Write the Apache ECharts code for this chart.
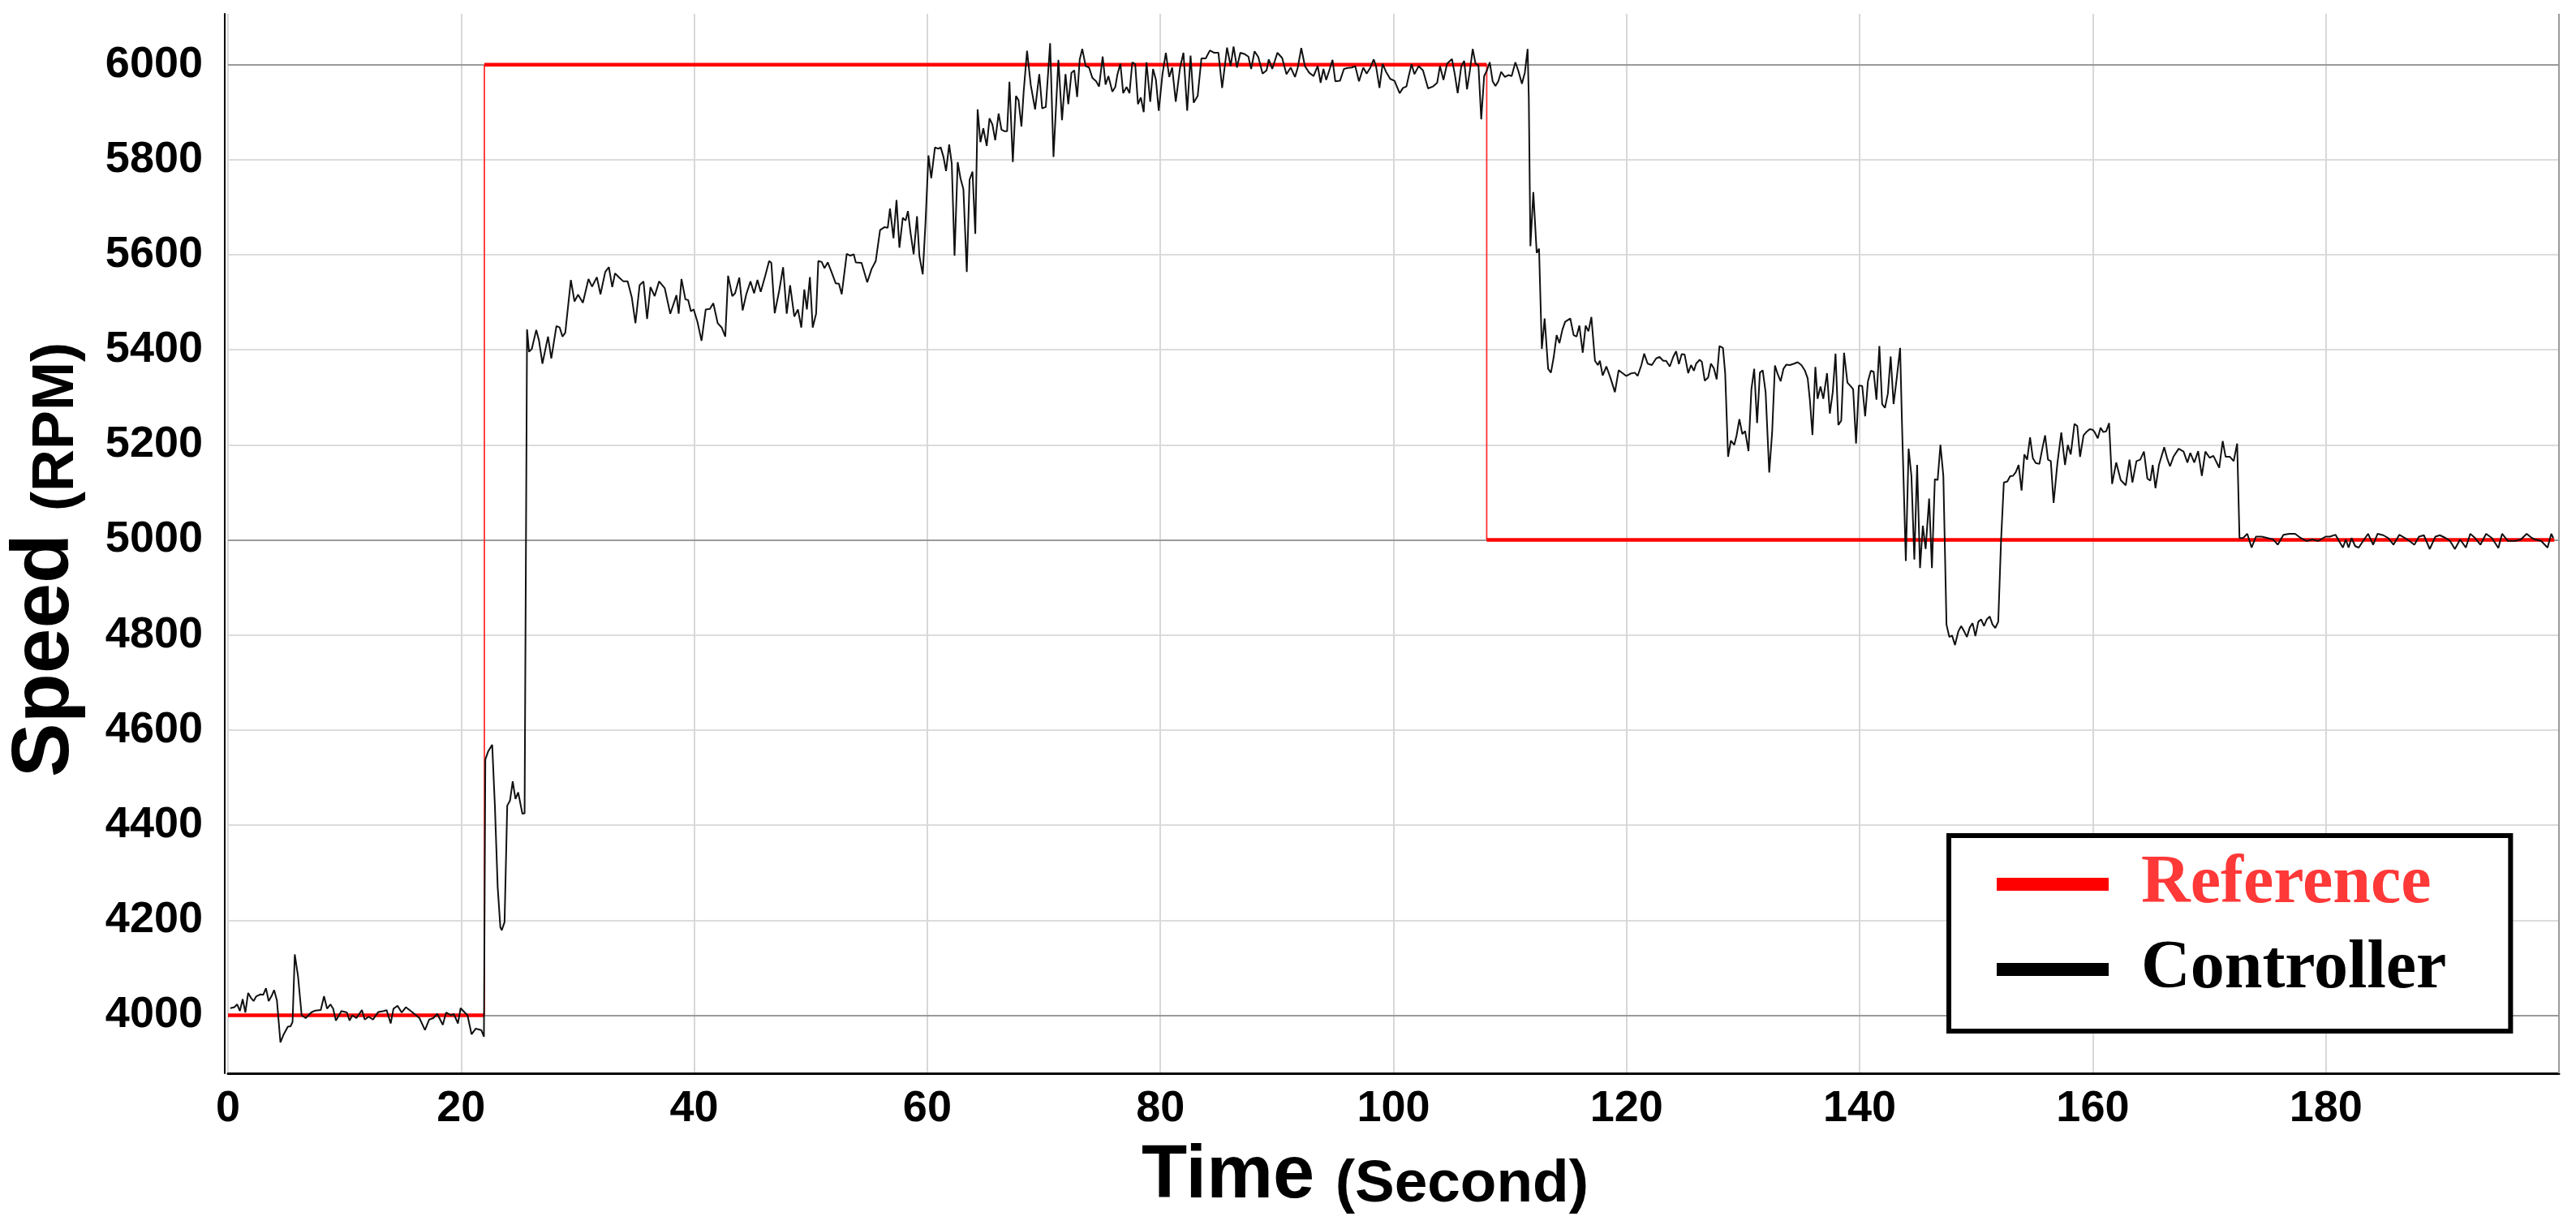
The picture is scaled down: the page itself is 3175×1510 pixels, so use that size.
<!DOCTYPE html>
<html>
<head>
<meta charset="utf-8">
<title>Speed response</title>
<script src="https://cdn.jsdelivr.net/npm/echarts@6/dist/echarts.min.js"></script>
<style>
  html, body { margin: 0; padding: 0; background: #fff; }
  #chart { width: 3175px; height: 1510px; }
</style>
</head>
<body>
<div id="chart"></div>
<script>
// set-point steps: change times (s) and the level held after each one (RPM)
const refTimes = [0, 22, 108, 199.6]
const refLevels = [4000, 6000, 5000]

// measured speed, [time (s), speed (RPM)]
const controller = [
  [0.2,4015],[0.55,4017],[0.79,4023],[1.02,4009],[1.26,4034],[1.49,4006],[1.73,4047],[1.96,4037],[2.2,4030],[2.43,4040],
  [2.79,4044],[3.02,4043],[3.26,4057],[3.49,4030],[3.73,4040],[3.96,4053],[4.2,4031],[4.5,3943],[4.78,3960],[5.14,3976],
  [5.37,3977],[5.54,3986],[5.73,4128],[6.01,4082],[6.32,4000],[6.67,3994],[7.14,4006],[7.49,4010],[7.96,4011],[8.24,4040],
  [8.5,4014],[8.79,4023],[9.02,4014],[9.26,3989],[9.73,4009],[10.2,4006],[10.43,3989],[10.67,4000],[11.02,3994],[11.49,4011],
  [11.73,3991],[12.08,3997],[12.43,3991],[12.9,4007],[13.37,4009],[13.61,4011],[13.96,3983],[14.2,4014],[14.55,4020],[14.9,4006],
  [15.26,4017],[15.84,4006],[16.43,3994],[16.9,3969],[17.26,3991],[17.61,3994],[17.96,4003],[18.43,3980],[18.72,4006],[19.14,4000],
  [19.37,4003],[19.73,3983],[19.96,4015],[20.31,4006],[20.55,4000],[20.9,3960],[21.26,3972],[21.73,3969],[21.96,3955],[22.08,4538],
  [22.32,4555],[22.67,4569],[22.9,4441],[23.14,4270],[23.37,4185],[23.49,4179],[23.73,4196],[23.96,4441],[24.2,4452],[24.43,4492],
  [24.67,4455],[24.9,4469],[25.26,4424],[25.45,4425],
  [25.66,5443],[25.83,5396],[26.07,5402],[26.45,5442],[26.69,5419],[26.98,5371],[27.46,5428],[27.74,5382],[28.18,5450],[28.46,5447],
  [28.7,5428],[28.94,5436],[29.42,5547],[29.73,5502],[30.04,5516],[30.45,5499],[30.93,5549],[31.24,5533],[31.65,5553],[31.96,5517],
  [32.37,5564],[32.68,5574],[32.97,5532],[33.21,5561],[33.57,5552],[33.93,5544],[34.29,5544],[34.65,5510],[34.96,5456],[35.32,5536],
  [35.65,5544],[35.96,5465],[36.25,5532],[36.61,5513],[36.99,5544],[37.47,5530],[37.95,5476],[38.48,5515],[38.67,5476],[38.91,5549],
  [39.25,5506],[39.48,5505],[39.72,5481],[39.96,5485],[40.28,5459],[40.63,5419],[40.99,5485],[41.35,5486],[41.64,5498],[42.02,5456],
  [42.36,5447],[42.67,5428],[42.91,5556],[43.27,5513],[43.51,5519],[43.87,5552],[44.16,5483],[44.47,5517],[44.83,5544],[45.14,5519],
  [45.43,5547],[45.71,5522],[46.1,5556],[46.43,5587],[46.62,5583],[46.91,5477],[47.3,5525],[47.63,5574],[47.94,5476],[48.23,5536],
  [48.59,5470],[48.9,5485],[49.19,5447],[49.45,5527],[49.67,5485],[49.93,5553],[50.17,5447],[50.46,5476],[50.65,5587],[50.94,5585],
  [51.18,5572],[51.46,5584],[51.78,5564],[52.14,5540],[52.42,5539],[52.66,5517],[53.09,5602],[53.38,5598],[53.69,5601],
  [53.87,5584],[54.36,5583],[54.85,5542],[55.22,5570],[55.58,5587],[55.95,5652],[56.31,5658],[56.61,5657],[56.8,5697],[57.1,5635],
  [57.36,5715],[57.61,5615],[57.9,5678],[58.14,5672],[58.34,5692],[58.56,5647],[58.83,5601],[59.12,5681],[59.32,5598],[59.61,5559],
  [59.85,5669],[60.1,5809],[60.34,5761],[60.66,5826],[60.95,5823],[61.15,5826],[61.39,5806],[61.61,5776],[61.88,5832],[62.1,5792],
  [62.34,5598],[62.61,5795],[62.85,5761],[63.1,5738],[63.39,5564],[63.63,5758],[63.88,5775],[64.12,5644],[64.32,5906],[64.56,5837],
  [64.81,5866],[65.1,5829],[65.34,5887],[65.59,5874],[65.83,5841],[66.12,5897],[66.37,5863],[66.61,5860],[66.85,5860],[67.05,5964],
  [67.34,5795],[67.61,5934],[67.83,5925],[68.08,5870],[68.27,5943],[68.56,6029],[68.88,5957],[69.25,5906],[69.61,5980],[69.86,5908],
  [70.17,5911],[70.54,6045],[70.83,5806],[71.25,6010],[71.56,5883],[71.86,5980],[72.1,5917],[72.37,5983],[72.61,5988],[72.86,5932],
  [73.08,6011],[73.3,6033],[73.59,5997],[73.88,5994],[74.17,5972],[74.49,5965],[74.74,5954],[75.05,6017],[75.3,5958],[75.54,5976],
  [75.88,5943],[76.13,5953],[76.32,5980],[76.57,6002],[76.81,5940],[77.1,5953],[77.35,5940],[77.59,6005],[77.84,6001],[78.08,5917],
  [78.32,5931],[78.57,5900],[78.81,6005],[79.13,5922],[79.37,5991],[79.62,5968],[79.86,5903],[80.18,5980],[80.47,6025],[80.76,5974],
  [81.01,5994],[81.32,5922],[81.69,5994],[81.98,6025],[82.3,5903],[82.59,6019],[82.86,5920],[83.2,5934],[83.52,6013],[83.89,6013],
  [84.25,6030],[84.62,6025],[84.98,6025],[85.3,5951],[85.72,6036],[86.03,5997],[86.28,6038],[86.57,5994],[86.86,6025],[87.25,6022],
  [87.55,6017],[87.79,5991],[88.08,6028],[88.4,6016],[88.77,5981],
  [89.11,5988],[89.3,6011],[89.6,5991],[90.04,6025],[90.45,6014],[90.82,5980],[91.18,5994],[91.55,5974],[91.79,5994],[92.09,6035],
  [92.4,5997],[92.77,5983],[93.14,5976],[93.5,5997],[93.75,5962],[93.99,5991],[94.23,5968],[94.53,5991],[94.77,6010],[95.01,5965],
  [95.41,5966],[95.75,5991],[96.06,5993],[96.43,5994],[96.72,5997],[97.04,5965],[97.41,5994],[97.7,5981],[98.02,5994],[98.31,6011],
  [98.5,5997],[98.8,5951],[99.07,6002],[99.36,5985],[99.72,5970],[100.09,5966],[100.53,5940],[100.82,5951],[101.11,5954],[101.31,5976],
  [101.55,6001],[101.8,5980],[102.16,5997],[102.53,5988],[102.97,5950],[103.38,5954],[103.75,5962],[103.99,5997],[104.29,5968],[104.6,6002],
  [105.02,6012],[105.26,5980],[105.51,5940],[105.82,5997],[106.07,6008],[106.31,5948],[106.56,5988],[106.8,6033],[107.04,6002],[107.29,5999],
  [107.53,5885],[107.78,5976],[108.02,5988],[108.26,6005],[108.51,5965],[108.75,5955],[108.99,5965],[109.24,5985],[109.56,5974],[109.85,5978],
  [110.14,5976],[110.46,6005],[110.7,5988],[111.02,5960],[111.27,5983],[111.51,6033],[111.61,5931],[111.75,5618],[112.0,5732],[112.29,5604],
  [112.49,5613],[112.73,5402],[112.97,5466],[113.27,5360],[113.51,5352],[113.75,5385],[114.0,5431],[114.24,5414],[114.49,5442],[114.73,5459],
  [115.17,5466],[115.46,5431],[115.71,5428],[115.95,5451],[116.24,5394],[116.49,5451],[116.73,5439],[116.98,5469],[117.29,5377],[117.54,5368],
  [117.71,5377],[117.95,5346],[118.27,5365],[118.63,5340],[119.0,5311],[119.32,5357],[119.66,5351],[119.98,5345],[120.34,5350],[120.71,5352],
  [120.95,5345],[121.27,5368],[121.51,5392],[121.81,5371],[122.17,5368],[122.54,5382],[122.83,5385],[123.15,5377],[123.39,5377],[123.71,5365],
  [124.0,5385],[124.25,5397],[124.49,5370],[124.73,5391],[124.98,5390],
  [125.29,5351],[125.53,5368],[125.78,5356],[125.97,5371],[126.27,5379],[126.46,5375],[126.71,5335],[127.0,5342],[127.24,5371],[127.49,5361],
  [127.73,5338],[127.97,5408],[128.27,5404],[128.46,5351],[128.71,5175],[128.95,5209],[129.24,5200],[129.44,5220],[129.68,5254],[129.93,5223],
  [130.17,5229],[130.46,5187],[130.71,5317],[130.95,5360],[131.2,5246],[131.44,5352],[131.68,5357],[131.93,5311],[132.24,5142],[132.49,5226],
  [132.73,5367],[132.98,5348],[133.22,5334],[133.46,5360],[133.71,5369],[134.02,5368],[134.37,5371],[134.68,5374],[135.0,5368],[135.29,5357],
  [135.54,5340],[135.73,5294],[135.95,5221],[136.2,5364],[136.39,5297],[136.64,5323],[136.88,5297],[137.2,5351],[137.44,5266],[137.69,5311],
  [137.93,5392],[138.17,5242],[138.42,5251],[138.66,5394],[138.95,5331],[139.25,5323],[139.44,5317],[139.69,5203],[139.93,5325],[140.22,5324],
  [140.47,5260],[140.71,5334],[140.96,5356],[141.2,5354],[141.44,5295],[141.69,5408],[141.93,5286],[142.17,5278],[142.42,5308],[142.66,5386],
  [142.91,5286],[143.15,5334],[143.47,5404],[143.64,5237],[143.96,4956],[144.2,5192],[144.44,5135],[144.69,4959],[144.93,5158],[145.18,4941],
  [145.42,5030],[145.66,4981],[145.96,5087],[146.2,4941],[146.45,5128],[146.69,5126],[146.93,5200],[147.18,5135],[147.45,4822],[147.69,4796],
  [147.93,4799],[148.18,4779],[148.47,4808],[148.71,4819],[148.96,4808],[149.2,4796],[149.45,4816],[149.69,4825],[149.93,4798],[150.18,4828],
  [150.42,4833],[150.67,4819],[150.91,4833],[151.16,4839],[151.4,4822],[151.64,4815],[151.89,4828],[152.13,4998],[152.37,5121],[152.67,5123],
  [152.91,5134],[153.16,5135],[153.4,5143],[153.64,5158],[153.89,5104],[154.13,5180],[154.37,5169],[154.62,5216],[154.86,5172],[155.11,5162],
  [155.42,5160],[155.67,5192],[155.91,5220],[156.16,5169],[156.4,5166],[156.64,5078],[156.96,5160],[157.3,5226],[157.62,5158],[157.86,5200],
  [158.11,5180],[158.43,5244],[158.67,5240],[158.91,5175],[159.21,5220],[159.45,5227],[159.74,5233],[159.99,5232],[160.18,5226],[160.43,5214],
  [160.67,5236],[160.91,5227],[161.16,5229],[161.4,5246],
  [161.66,5118],[162.01,5163],[162.4,5126],[162.83,5115],[163.15,5169],[163.4,5121],[163.75,5166],[164.07,5169],[164.39,5186],[164.69,5129],
  [164.94,5125],[165.14,5158],[165.38,5109],[165.68,5158],[166.13,5195],[166.38,5172],[166.63,5155],[166.92,5175],[167.37,5192],[167.79,5186],
  [168.12,5163],[168.37,5183],[168.71,5163],[169.04,5187],[169.36,5135],[169.66,5186],[170.03,5173],[170.35,5177],[170.85,5152],[171.15,5208],
  [171.4,5175],[171.77,5175],[172.09,5166],[172.39,5203],[172.59,5004],[172.89,5004],[173.26,5013],[173.63,4984],[174.0,5007],[174.5,5007],
  [175.0,5004],[175.5,5001],[175.87,4990],[176.36,5011],[176.86,5013],[177.36,5013],[177.85,5004],[178.35,4998],[178.85,5001],[179.34,4998],
  [179.97,5007],[180.34,5007],[180.83,5011],[181.13,4998],[181.46,4984],[181.71,5001],[181.95,4984],[182.2,5004],[182.52,4987],[182.82,4984],
  [183.2,4998],[183.62,5013],[184.06,4990],[184.44,5013],[184.93,5010],[185.36,5004],[185.8,4990],[186.3,5011],[186.8,5004],[187.17,4998],
  [187.59,4990],[187.99,5007],[188.41,5010],[188.91,4981],[189.4,5007],[189.78,5010],[190.28,5004],[190.65,4998],[191.07,4981],[191.52,5001],
  [192.01,4984],[192.39,5013],[192.81,5004],[193.26,4990],[193.75,5013],[194.25,5004],[194.8,4983],[195.12,5013],[195.62,4998],[196.24,4998],
  [196.73,5001],[197.23,5013],[197.68,5004],[197.97,5001],[198.47,4998],[199.02,4984],[199.34,5013],[199.51,5004]
]

const timeRange = [0, 200]
const speedRange = [3878, 6107]
const majorLines = [4000, 5000, 6000]

// flat parts of the set-point are drawn heavy, the step edges thin
const refFlat = []
const refEdges = []
refLevels.forEach((lvl, i) => {
  refFlat.push([refTimes[i], lvl], [refTimes[i + 1], lvl], [refTimes[i + 1], '-'])
  if (i > 0) {
    refEdges.push([refTimes[i], refLevels[i - 1]], [refTimes[i], lvl], [refTimes[i], '-'])
  }
})

const sans = "'Liberation Sans', Arial, sans-serif"
const serif = "'Liberation Serif', 'Times New Roman', serif"

const chart = echarts.init(document.getElementById('chart'))

const option = {
  animation: false,
  backgroundColor: '#ffffff',
  grid: {
    left: 281,
    right: 21,
    top: 17,
    bottom: 187,
    containLabel: false,
    outerBoundsMode: 'none'
  },
  legend: {
    orient: 'vertical',
    left: 2402,
    top: 1030,
    padding: [18, 79, 34, 59],
    itemWidth: 138,
    itemHeight: 16,
    itemGap: 21,
    icon: 'rect',
    selectedMode: false,
    borderColor: '#000',
    borderWidth: 6,
    backgroundColor: '#fff',
    itemStyle: { borderWidth: 0 },
    textStyle: {
      fontFamily: serif,
      fontWeight: 'bold',
      fontSize: 84,
      lineHeight: 84,
      padding: [0, 0, 0, 35]
    },
    data: [
      { name: 'Reference', textStyle: { color: '#ff3838' } },
      { name: 'Controller', textStyle: { color: '#000' } }
    ]
  },
  xAxis: {
    type: 'value',
    min: timeRange[0],
    max: timeRange[1],
    interval: 20,
    name: '{a|Time }{b|(Second)}',
    nameLocation: 'middle',
    nameGap: 82,
    nameTextStyle: {
      padding: [0, 70, 0, 0],
      rich: {
        a: { fontFamily: sans, fontWeight: 'bold', fontSize: 92, lineHeight: 92, color: '#000' },
        b: { fontFamily: sans, fontWeight: 'bold', fontSize: 73, lineHeight: 73, color: '#000', verticalAlign: 'bottom' }
      }
    },
    axisLine: { show: true, onZero: false, lineStyle: { color: '#000', width: 3 } },
    axisTick: { show: false },
    axisLabel: {
      margin: 17,
      fontFamily: sans,
      fontWeight: 'bold',
      fontSize: 54,
      lineHeight: 54,
      color: '#000',
      formatter: v => (v < timeRange[1] ? String(v) : '')
    },
    splitLine: { show: true, lineStyle: { color: '#d8d8d8', width: 2 } }
  },
  yAxis: {
    type: 'value',
    min: speedRange[0],
    max: speedRange[1],
    minInterval: 200,
    maxInterval: 200,
    splitNumber: 11,
    offset: 4,
    name: '{a|Speed }{b|(RPM)}',
    nameLocation: 'middle',
    nameRotate: 90,
    nameGap: 171,
    nameTextStyle: {
      padding: [0, 40, 0, 0],
      rich: {
        a: { fontFamily: sans, fontWeight: 'bold', fontSize: 100, lineHeight: 100, color: '#000' },
        b: { fontFamily: sans, fontWeight: 'bold', fontSize: 72, lineHeight: 72, color: '#000', verticalAlign: 'bottom' }
      }
    },
    axisLine: { show: true, onZero: false, lineStyle: { color: '#000', width: 2 } },
    axisTick: { show: false },
    axisLabel: {
      margin: 27,
      fontFamily: sans,
      fontWeight: 'bold',
      fontSize: 54,
      color: '#000',
      formatter: v => (v % 200 === 0 ? String(v) : '')
    },
    splitLine: { show: true, showMaxLine: false, lineStyle: { color: '#dcdcdc', width: 2 } }
  },
  series: [
    {
      name: 'Reference',
      type: 'line',
      data: refEdges,
      symbol: 'none',
      silent: true,
      z: 2,
      itemStyle: { color: '#ff0000' },
      lineStyle: { color: '#ff3030', width: 1.8 }
    },
    {
      name: 'Reference',
      type: 'line',
      data: refFlat,
      symbol: 'none',
      silent: true,
      z: 3,
      itemStyle: { color: '#ff0000' },
      lineStyle: { color: '#ff0000', width: 4.5 },
      markLine: {
        silent: true,
        symbol: 'none',
        z: 1,
        animation: false,
        label: { show: false },
        emphasis: { disabled: true },
        lineStyle: { color: '#9a9a9a', width: 2, type: 'solid' },
        data: majorLines.map(v => ({ yAxis: v })).concat([{ xAxis: timeRange[1] }])
      }
    },
    {
      name: 'Controller',
      type: 'line',
      data: controller,
      symbol: 'none',
      silent: true,
      z: 4,
      itemStyle: { color: '#000000' },
      lineStyle: { color: '#111111', width: 2 }
    }
  ]
}

chart.setOption(option)
</script>
</body>
</html>
